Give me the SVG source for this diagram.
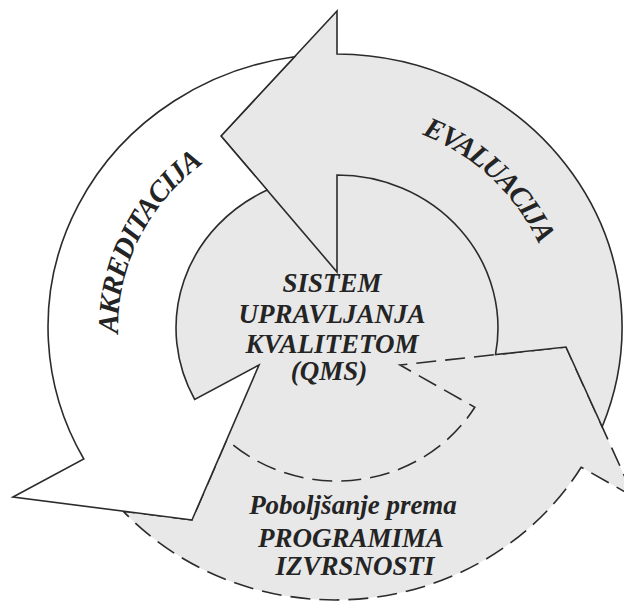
<svg xmlns="http://www.w3.org/2000/svg" width="624" height="601" viewBox="0 0 624 601">
<style>
.grey{fill:#e8e8e8}
.shape{stroke:#2b2b2b;stroke-width:1.6;stroke-linejoin:miter}
.white{fill:#ffffff}
.dash{stroke-dasharray:20 9}
.lbl{font-family:"Liberation Serif","Times New Roman",serif;font-weight:bold;font-style:italic;fill:#242424}
.big{font-size:27px;text-anchor:middle}
.arc{font-size:29px}
</style>
<defs>
<path id="evalPath" d="M337,118 A220,210 0 0 1 557,328"/>
<path id="akrPath" d="M131.3,399 A219,208 0 0 1 262.1,132.5"/>
</defs>
<rect width="624" height="601" fill="#ffffff"/>
<g id="qms-core">
<ellipse cx="337" cy="328" rx="161" ry="153" class="grey"/>
</g>
<g id="connectors">
<g id="arrow-poboljsanje">
<path class="grey shape dash" d="M634,497 L581.2,467.2 A287,273 0 0 1 123.1,511.1 L192,520 L226.8,439.6 A161,153 0 0 0 474.8,407.2 L400,365 L566,347 Z"/>
</g>
<g id="arrow-evaluacija">
<path class="grey shape" d="M337,11 L337,54 A287,273 0 0 1 602.2,426.8 L566,347 L495.5,354.6 A161,153 0 0 0 337,175 L337,272 L221,136 Z"/>
</g>
<g id="arrow-akreditacija">
<path class="white shape" d="M13,497 L83.8,459 A287,273 0 0 1 294.5,56.75 L221,136 L267.2,190.1 A161,153 0 0 0 194.7,399.5 L259,365 L192,520 Z"/>
</g>
</g>
<g id="label-evaluacija">
<text class="lbl arc" letter-spacing="-1.5"><textPath href="#evalPath" startOffset="50%" text-anchor="middle">EVALUACIJA</textPath></text>
</g>
<g id="label-akreditacija">
<text class="lbl arc" letter-spacing="-1"><textPath href="#akrPath" startOffset="50%" text-anchor="middle">AKREDITACIJA</textPath></text>
</g>
<g id="label-qms">
<text class="lbl big" x="332" y="292">SISTEM</text>
<text class="lbl big" x="332" y="323">UPRAVLJANJA</text>
<text class="lbl big" x="332" y="353">KVALITETOM</text>
<text class="lbl big" x="329" y="380">(QMS)</text>
</g>
<g id="label-poboljsanje">
<text class="lbl big" x="353" y="514" font-size="28">Poboljšanje prema</text>
<text class="lbl big" x="351" y="547" font-size="28">PROGRAMIMA</text>
<text class="lbl big" x="355" y="575" font-size="28">IZVRSNOSTI</text>
</g>
</svg>
